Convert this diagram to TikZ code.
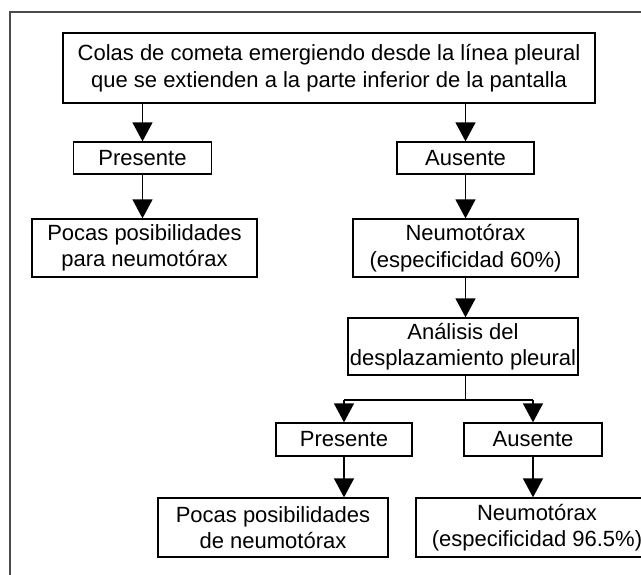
\documentclass[tikz,border=0pt]{standalone}
\usepackage{fontspec}
\setmainfont{Liberation Sans}
\usetikzlibrary{arrows.meta}
\begin{document}
\begin{tikzpicture}[x=1pt,y=-1pt,
  box/.style={draw=black,line width=1.3pt,rectangle,inner sep=0pt,align=center,
    font=\fontsize{22}{26.5}\selectfont},
  conn/.style={line width=1.4pt,-{Triangle[width=20pt,length=19pt]}},
  plainline/.style={line width=1.4pt}]
\useasboundingbox (0,0) rectangle (641,575);
\clip (0,0) rectangle (641,575);
\fill[white] (0,0) rectangle (641,575);
\draw[line width=2pt,draw=black!70] (10,580) -- (10,12) -- (650,12);
\node[box,minimum width=532pt,minimum height=70pt] (top) at (329,68)
  {Colas de cometa emergiendo desde la línea pleural\\que se extienden a la parte inferior de la pantalla};
\node[box,minimum width=138pt,minimum height=32pt] (pres1) at (142.5,158) {Presente};
\node[box,minimum width=137pt,minimum height=32pt] (aus1) at (465.5,158) {Ausente};
\node[box,minimum width=225pt,minimum height=58pt] (pocas1) at (144.5,248) {Pocas posibilidades\\para neumotórax};
\node[box,minimum width=225pt,minimum height=58pt] (neumo1) at (465.5,248) {Neumotórax\\(especificidad 60\%)};
\node[box,minimum width=230pt,minimum height=57pt] (anal) at (463,346.5) {Análisis del\\desplazamiento pleural};
\node[box,minimum width=136pt,minimum height=33pt] (pres2) at (344,439.5) {Presente};
\node[box,minimum width=138pt,minimum height=33pt] (aus2) at (533,439.5) {Ausente};
\node[box,minimum width=230pt,minimum height=59pt] (pocas2) at (273,527.5) {Pocas posibilidades\\de neumotórax};
\node[box,minimum width=248pt,minimum height=59pt] (neumo2) at (540,527.5) {};
\node[align=center,inner sep=0pt,font=\fontsize{22}{26.5}\selectfont] (neumo2t) at (537,527.5) {Neumotórax\\(especificidad 96.5\%)};
\coordinate (jc) at (anal.south |- 0,400);
\coordinate (jl) at (pres2.north |- jc);
\coordinate (jr) at (aus2.north |- jc);
\draw[conn] (top.south -| pres1.center) -- (pres1.north);
\draw[conn] (top.south -| aus1.center) -- (aus1.north);
\draw[conn] (pres1.south) -- (pocas1.north -| pres1.center);
\draw[conn] (aus1.south) -- (neumo1.north -| aus1.center);
\draw[conn] (neumo1.south) -- (anal.north -| neumo1.center);
\draw[plainline] (neumo1.center |- anal.south) -- (neumo1.center |- jc);
\draw[plainline] (jl) -- (jr);
\draw[conn] (jl) -- (pres2.north);
\draw[conn] (jr) -- (aus2.north);
\draw[conn] (pres2.south) -- (pocas2.north -| pres2.center);
\draw[conn] (aus2.south) -- (neumo2.north -| aus2.center);
\end{tikzpicture}
\end{document}
